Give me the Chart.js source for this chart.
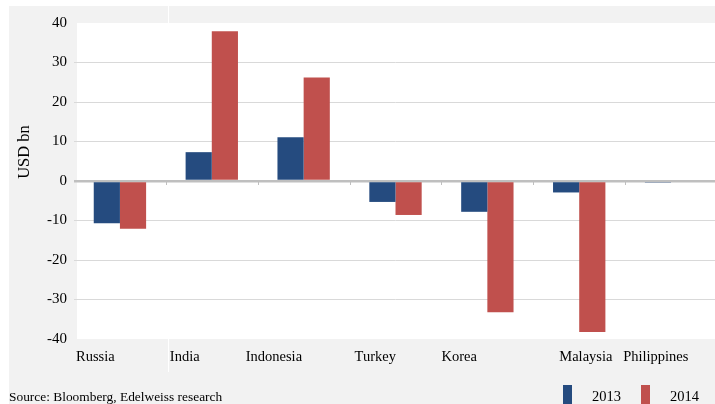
<!DOCTYPE html>
<html>
<head>
<meta charset="utf-8">
<script src="https://cdn.jsdelivr.net/npm/chart.js@4/dist/chart.umd.min.js"></script>
<style>
  html, body { margin: 0; padding: 0; background: #fff; overflow: hidden; }
  #wrap { width: 720px; height: 404px; }
</style>
</head>
<body>
<div id="wrap"><canvas id="myChart" width="720" height="404"></canvas></div>
<script>
const countries = ["Russia", "India", "Indonesia", "Turkey", "Korea", "Malaysia", "Philippines"];
const flows2013 = [-10.7, 7.3, 11.1, -5.3, -7.8, -2.9, -0.4];
const flows2014 = [-12.1, 37.9, 26.2, -8.6, -33.2, -38.2, 0];
const yTicks = [40, 30, 20, 10, 0, -10, -20, -30, -40];
const sourceNote = "Source: Bloomberg, Edelweiss research";
const yTitle = "USD bn";

const serif = '"Liberation Serif", "Times New Roman", serif';
// small nudges so the category labels sit where the original put them
const labelNudge = [0, 2, -14, 3, -2, 24, -4];

const backdrop = {
    id: 'backdrop',
    beforeDraw(chart) {
        const ctx = chart.ctx;
        const area = chart.chartArea;
        ctx.save();
        ctx.fillStyle = '#ffffff';
        ctx.fillRect(0, 0, chart.width, chart.height);
        ctx.fillStyle = '#f2f2f2';
        ctx.fillRect(9, 6, chart.width, chart.height);
        ctx.fillStyle = '#ffffff';
        ctx.fillRect(area.left + 3, area.top, area.right - area.left, area.bottom - area.top);
        // faint cell borders from the sheet
        ctx.strokeStyle = '#ffffff';
        ctx.lineWidth = 1;
        ctx.beginPath();
        ctx.moveTo(168.5, 6); ctx.lineTo(168.5, area.top);
        ctx.moveTo(168.5, area.bottom); ctx.lineTo(168.5, 372);
        ctx.stroke();
        ctx.restore();
    },
    afterDraw(chart) {
        const ctx = chart.ctx;
        const x = chart.scales.x;
        const y = chart.scales.y;
        const zero = y.getPixelForValue(0);
        const step = (x.right - x.left) / countries.length;
        ctx.save();
        // tick marks on the zero line
        ctx.strokeStyle = '#bfbfbf';
        ctx.lineWidth = 1;
        ctx.beginPath();
        for (let i = 1; i < countries.length; i++) {
            const px = Math.round(x.left + i * step) + 0.5;
            ctx.moveTo(px, zero); ctx.lineTo(px, zero + 4);
        }
        ctx.stroke();
        // category labels
        ctx.fillStyle = '#000';
        ctx.font = '14.5px ' + serif;
        ctx.textAlign = 'left';
        ctx.textBaseline = 'middle';
        countries.forEach((c, i) => {
            ctx.fillText(c, x.left + i * step + 2 + labelNudge[i], 357);
        });
        // y title
        ctx.save();
        ctx.translate(25, 152);
        ctx.rotate(-Math.PI / 2);
        ctx.textAlign = 'center';
        ctx.font = '16.5px ' + serif;
        ctx.fillText(yTitle, 0, 0);
        ctx.restore();
        // source
        ctx.font = '13.4px ' + serif;
        ctx.textAlign = 'left';
        ctx.fillText(sourceNote, 9, 397);
        // legend
        let lx = 563;
        chart.data.datasets.forEach(ds => {
            ctx.fillStyle = ds.backgroundColor;
            ctx.fillRect(lx, 385, 9, 20);
            ctx.fillStyle = '#000';
            ctx.font = '14.5px ' + serif;
            ctx.fillText(ds.label, lx + 29, 397);
            lx += 78;
        });
        ctx.restore();
    }
};

new Chart(document.getElementById('myChart').getContext('2d'), {
    type: 'bar',
    data: {
        labels: countries,
        datasets: [
            { label: '2013', data: flows2013, backgroundColor: '#254b7f' },
            { label: '2014', data: flows2014, backgroundColor: '#c0504d' }
        ]
    },
    options: {
        responsive: false,
        animation: false,
        events: [],
        layout: { padding: { top: 23, bottom: 65, left: 0, right: 3 } },
        datasets: { bar: { categoryPercentage: 0.57, barPercentage: 1.0 } },
        plugins: { legend: { display: false }, tooltip: { enabled: false } },
        scales: {
            x: {
                afterFit(scale) { scale.height = 0; },
                ticks: { display: false },
                grid: { display: false },
                border: { display: false }
            },
            y: {
                min: -40,
                max: 40,
                afterFit(scale) { scale.width = 74; },
                afterBuildTicks(scale) { scale.ticks = yTicks.map(v => ({ value: v })); },
                ticks: {
                    padding: 7,
                    color: '#000',
                    font: { family: serif, size: 15 }
                },
                border: { display: false },
                grid: {
                    drawTicks: false,
                    color: c => c.tick.value === 0 ? '#bfbfbf' : (Math.abs(c.tick.value) === 40 ? 'rgba(0,0,0,0)' : '#d9d9d9'),
                    lineWidth: c => c.tick.value === 0 ? 2.5 : 1
                }
            }
        }
    },
    plugins: [backdrop]
});
</script>
</body>
</html>
